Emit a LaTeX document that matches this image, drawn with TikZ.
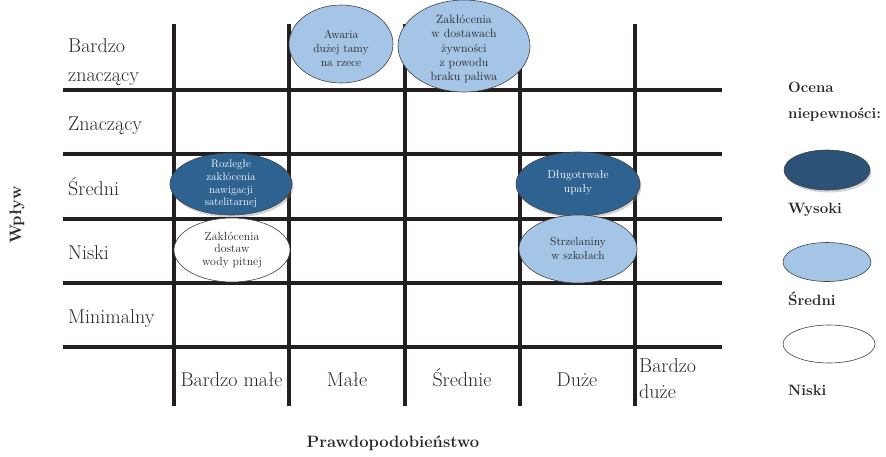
\documentclass[tikz,border=0pt]{standalone}
\usepackage{fontspec}
\usetikzlibrary{shapes.geometric,shadows}
\definecolor{gridc}{RGB}{35,31,32}
\definecolor{darkb}{RGB}{46,99,145}
\definecolor{legdark}{RGB}{44,82,120}
\definecolor{lightb}{RGB}{165,197,230}
\definecolor{txtg}{RGB}{40,38,38}
\begin{document}
\begin{tikzpicture}[x=1pt,y=-1pt,
  gridline/.style={line width=4pt, draw=gridc},
  lab/.style={font=\fontsize{20}{26}\selectfont, text=txtg, inner sep=0pt},
  rowlab/.style={lab, anchor=base west},
  collab/.style={lab, anchor=base},
  boldlab/.style={font=\fontsize{16.5}{20}\selectfont\bfseries, text=txtg, inner sep=0pt},
  leglab/.style={font=\fontsize{15}{18}\selectfont\bfseries, text=txtg, inner sep=0pt, anchor=base west},
  risk/.style={ellipse, draw=black!75, line width=0.6pt, inner sep=0pt},
  riskhigh/.style={risk, fill=darkb, drop shadow={opacity=0.35, shadow xshift=1.5pt, shadow yshift=-2.5pt}},
  riskmid/.style={risk, fill=lightb},
  risklow/.style={risk, fill=white},
  rtext/.style={align=center, inner sep=0pt, font=\fontsize{11.6}{14}\selectfont},
  rtextw/.style={rtext, text=white},
  rtextd/.style={rtext, text=txtg}
]
\useasboundingbox (0,0) rectangle (886,456);

% grid
\foreach \yy in {90,154.25,218.5,282.75,347}
  \draw[gridline] (63,\yy) -- (722,\yy);
\foreach \xx in {174,289.25,404.5,519.75,635}
  \draw[gridline] (\xx,24) -- (\xx,406);

% row labels
\node[rowlab] (r1a) at (68,52) {Bardzo};
\node[rowlab] (r1b) at (68,81) {znaczący};
\node[rowlab] (r2) at (68,130) {Znaczący};
\node[rowlab] (r3) at (68,195) {Średni};
\node[rowlab] (r4) at (68,259) {Niski};
\node[rowlab] (r5) at (68,323) {Minimalny};

% column labels
\node[collab] (c1) at (231.5,386) {Bardzo małe};
\node[collab] (c2) at (347,386) {Małe};
\node[collab] (c3) at (462,386) {Średnie};
\node[collab] (c4) at (577,386) {Duże};
\node[rowlab] (c5a) at (639,372) {Bardzo};
\node[rowlab] (c5b) at (639,398) {duże};

% axis titles
\node[boldlab, rotate=90] (ay) at (17,215) {Wpływ};
\node[boldlab] (ax) at (393,443) {Prawdopodobieństwo};

% risk ellipses
\node[riskmid, minimum width=104pt, minimum height=78pt] (e1) at (341,44) {};
\node[rtextd] (t1) at (341,48) {Awaria\\dużej tamy\\na rzece};
\node[riskmid, minimum width=132pt, minimum height=92pt] (e2) at (464,46) {};
\node[rtextd, font=\fontsize{12}{14.4}\selectfont] (t2) at (464,49) {Zakłócenia\\w dostawach\\żywności\\z powodu\\braku paliwa};

\node[risklow, minimum width=116pt, minimum height=64pt] (e4) at (232,250) {};
\node[rtextd, font=\fontsize{11.8}{12.6}\selectfont] (t4) at (e4.center) {Zakłócenia\\dostaw\\wody pitnej};
\node[riskhigh, minimum width=122pt, minimum height=62pt] (e3) at (231,184) {};
\node[rtextw, font=\fontsize{11}{12.8}\selectfont] (t3) at (e3.center) {Rozległe\\zakłócenia\\nawigacji\\satelitarnej};

\node[riskhigh, minimum width=124pt, minimum height=64pt] (e5) at (578,184) {};
\node[rtextw] (t5) at (578,183) {Długotrwałe\\upały};
\node[riskmid, minimum width=118pt, minimum height=68pt] (e6) at (578,249) {};
\node[rtextd] (t6) at (578,248) {Strzelaniny\\w szkołach};

% legend
\node[leglab] (l0a) at (788,92) {Ocena};
\node[leglab] (l0b) at (788,118) {niepewności:};
\node[risk, fill=legdark, minimum width=86pt, minimum height=40pt, drop shadow={opacity=0.35, shadow xshift=1.5pt, shadow yshift=-2.5pt}] (lg1) at (827,170) {};
\node[leglab] (l1) at (788,213) {Wysoki};
\node[riskmid, minimum width=88pt, minimum height=39pt] (lg2) at (827,262) {};
\node[leglab] (l2) at (788,305) {Średni};
\node[risklow, minimum width=92pt, minimum height=38pt] (lg3) at (829,344) {};
\node[leglab] (l3) at (788,395) {Niski};
\end{tikzpicture}
\end{document}
